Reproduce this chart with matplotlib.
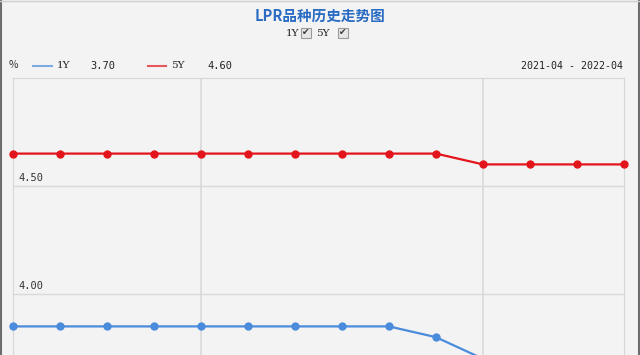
import matplotlib
matplotlib.use("Agg")
import matplotlib.pyplot as plt
from matplotlib.patches import Rectangle
from matplotlib.lines import Line2D

plt.rcParams['font.family'] = ['Noto Sans CJK SC', 'DejaVu Sans']

# monthly LPR quotes (%)
months = ['2021-03', '2021-04', '2021-05', '2021-06', '2021-07', '2021-08', '2021-09',
          '2021-10', '2021-11', '2021-12', '2022-01', '2022-02', '2022-03', '2022-04']
lpr_1y = [3.85, 3.85, 3.85, 3.85, 3.85, 3.85, 3.85, 3.85, 3.85, 3.80, 3.70, 3.70, 3.70, 3.70]
lpr_5y = [4.65, 4.65, 4.65, 4.65, 4.65, 4.65, 4.65, 4.65, 4.65, 4.65, 4.60, 4.60, 4.60, 4.60]
y_ticks = [4.00, 4.50]
x_grid = ['2021-07', '2022-01']

W, H = 640, 355
bg = '#f3f3f3'
blue = '#4a8bdc'
red = '#e3141b'

fig = plt.figure(figsize=(W / 100, H / 100), dpi=100, facecolor=bg)

def px(x, y):
    return x / W, 1 - y / H

# plot area: left 13, right 624, top 78, runs past bottom edge
l, t = px(13, 78)
r, b = px(624, 355)
ax = fig.add_axes([l, b, r - l, t - b], facecolor=bg)
x = list(range(len(months)))
ax.set_xlim(0, len(months) - 1)
ax.set_ylim(4.50 - (355 - 186) / 216, 5.00)

for v in y_ticks:
    ax.axhline(v, color='#d9d9d9', lw=1, zorder=0)
    ax.text(0.12, v + 0.012, '%.2f' % v, fontsize=7.5, color='#333333',
            family='DejaVu Sans Mono', va='bottom', ha='left')
for m in x_grid:
    ax.axvline(months.index(m), color='#d9d9d9', lw=1.2, zorder=0)

ax.plot(x, lpr_5y, color=red, lw=1.6, marker='o', ms=5, clip_on=False, zorder=3)
ax.plot(x, lpr_1y, color=blue, lw=1.6, marker='o', ms=5, clip_on=False, zorder=3)

ax.set_xticks([])
ax.set_yticks([])
for side in ['top', 'left', 'right']:
    ax.spines[side].set_color('#d6d6d6')
ax.spines['bottom'].set_visible(False)

# outer frame
fig.add_artist(Line2D([0.5 / W, 0.5 / W], [0, 1], color='#6d6d6d', lw=1.5))
fig.add_artist(Line2D([1 - 1.5 / W, 1 - 1.5 / W], [0, 1], color='#6d6d6d', lw=1.5))
fig.add_artist(Line2D([0, 1], [1 - 0.5 / H, 1 - 0.5 / H], color='#cfcfcf', lw=1))

# title and check boxes
fig.text(*px(320, 16), 'LPR品种历史走势图', ha='center', va='center',
         fontsize=10.5, fontweight='bold', color='#2a6cc4')
fig.text(*px(293, 34), '1Y', ha='center', va='center', fontsize=7.5,
         family='DejaVu Serif', color='#222222')
fig.text(*px(323, 34), '5Y', ha='center', va='center', fontsize=7.5,
         family='DejaVu Serif', color='#222222')
for cx in [306, 343]:
    x0, y0 = px(cx - 5, 38)
    fig.add_artist(Rectangle((x0, y0), 10 / W, 10 / H, facecolor='#e6e6e6',
                             edgecolor='#9a9a9a', lw=0.8))
    fig.text(*px(cx, 33), '✔', ha='center', va='center', fontsize=6.5,
             family='DejaVu Sans', color='#333333')

# legend row
fig.text(*px(13, 65), '%', ha='center', va='center', fontsize=7.5, color='#333333')
fig.add_artist(Line2D([33 / W, 52 / W], [1 - 66 / H] * 2, color=blue, lw=1.5, alpha=0.7))
fig.text(*px(57, 66), '1Y', ha='left', va='center', fontsize=7.5,
         family='DejaVu Serif', color='#222222')
fig.text(*px(90, 66), '3.70', ha='left', va='center', fontsize=7.5,
         family='DejaVu Sans Mono', color='#222222')
fig.add_artist(Line2D([148 / W, 166 / W], [1 - 66 / H] * 2, color=red, lw=1.5, alpha=0.7))
fig.text(*px(171, 66), '5Y', ha='left', va='center', fontsize=7.5,
         family='DejaVu Serif', color='#222222')
fig.text(*px(207, 66), '4.60', ha='left', va='center', fontsize=7.5,
         family='DejaVu Sans Mono', color='#222222')
fig.text(*px(623, 66), '2021-04 - 2022-04', ha='right', va='center', fontsize=7.2,
         family='DejaVu Sans Mono', color='#222222')

fig.savefig('out.png', dpi=100, facecolor=bg)
